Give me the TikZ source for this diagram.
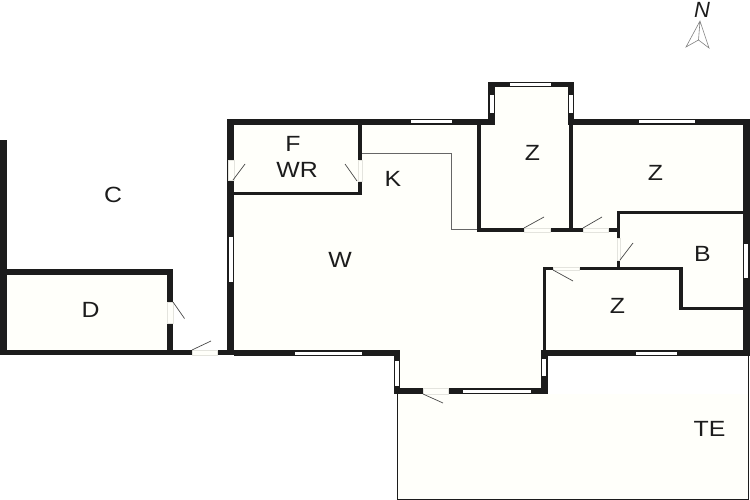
\documentclass[tikz,border=0pt]{standalone}
\usepackage{fontspec}
\setmainfont{Liberation Sans}
\definecolor{floorc}{RGB}{255,255,250}
\definecolor{wallc}{RGB}{28,28,28}
\definecolor{gapc}{RGB}{228,228,222}
\tikzset{
    wall/.style={fill=wallc},
    pane/.style={fill=white},
    doorgap/.style={fill=floorc,draw=gapc,line width=0.4pt},
    leaf/.style={draw=wallc!80!white,line width=0.7pt},
    room/.style={inner sep=0pt,xscale=1.13,yshift=-0.8pt,text=wallc,font=\fontsize{22}{22}\selectfont}
}
\begin{document}
\begin{tikzpicture}[x=1pt,y=-1pt]
\useasboundingbox (0,0) rectangle (750,500);
\def\housefloor{(230,122) -- (491,122) -- (491,85) -- (571,85) -- (571,122) -- (747,122) -- (747,353) -- (545,353) -- (545,391) -- (397,391) -- (397,353) -- (230,353) -- cycle}
\def\terrace{(397,394) rectangle (748,499)}
    % floors
    \fill[floorc] \housefloor;
    \fill[floorc] (3,272) rectangle (170,353);
    \fill[floorc] \terrace;
    \draw[wallc,line width=0.9pt] (397,394) -- (397,499) -- (748,499) -- (748,354);
    % kitchen counter
    \draw[black!60,line width=0.7pt] (362,153) -- (451,153) -- (451,229.5) -- (478,229.5);
    % walls
    \foreach \xa/\ya/\xb/\yb in {0/140/7/355, 7/269/173/275, 167/269/173/302, 167/323/173/355, 0/350/192/355,
        217/350/234/355, 227/119/234/355, 227/119/495/125, 358/125/362/160, 358/181/362/195, 234/192/362/195,
        477/119/481/232, 488/82/495/125, 488/82/574/87, 568/82/574/125, 568/119/750/125, 569/125/573/232,
        477/228/524/232, 550/228/583/232, 608/228/620/232, 617/211/750/214, 617/214/620/238, 617/260/620/268,
        743/119/750/356, 543/267/553/270, 579/267/683/270, 679/267/683/310, 679/307/750/310, 543/267/546/352,
        234/350/400/356, 394/350/400/394, 394/388/423/394, 448/388/548/394, 541/350/548/394, 541/350/750/356}
        \fill[wall] (\xa,\ya) rectangle (\xb,\yb);
    % door openings
    \foreach \xa/\ya/\xb/\yb in {167/302/173/323, 192/350/217/355, 228/160/234/180, 358/160/362/181, 524/228/550/232,
        583/228/608/232, 617/238/620/260, 553/267/579/270, 423/388/448/394}
        \filldraw[doorgap] (\xa,\ya) rectangle (\xb,\yb);
    % door leaves
    \foreach \xa/\ya/\xb/\yb in {173/302/184.5/318.5, 192/350/211/341, 233/180/245/164, 357/181/345/164, 524/228/544/217,
        583/228/602/217, 620/260/633/243, 553/270/573/281, 423/394/443/403}
        \draw[leaf] (\xa,\ya) -- (\xb,\yb);
    % windows
    \foreach \xa/\ya/\xb/\yb in {229/237/233/282, 411/120.5/452/123.5, 510/83/551/86, 490/95/494/113, 569/95/573/113,
        639/120.5/695/123.5, 744/244/748/278, 636/352/677/355, 295/352/362/355, 395/361/399/386, 463/390/531/393, 542/359/546/376}
        \fill[pane] (\xa,\ya) rectangle (\xb,\yb);
    % labels
    \node[room] (labelC) at (113,194) {C};
    \node[room] (labelD) at (90.5,309) {D};
    \node[room] (labelF) at (293,143) {F};
    \node[room] (labelWR) at (297,169) {WR};
    \node[room] (labelK) at (393,178) {K};
    \node[room] (labelW) at (340,259) {W};
    \node[room] (labelZa) at (532.5,152) {Z};
    \node[room] (labelZb) at (655.5,172) {Z};
    \node[room] (labelB) at (702.5,253) {B};
    \node[room] (labelZc) at (617.5,305) {Z};
    \node[room] (labelTE) at (709.5,428) {TE};
    % north arrow
    \node[inner sep=0pt,text=wallc,font=\fontsize{22}{22}\selectfont\itshape] (labelN) at (702,10) {N};
    \draw[black!50,line width=0.6pt] (700,21) -- (686,47) -- (698.5,40) -- (709,48) -- cycle (700,21) -- (698.5,40);
\end{tikzpicture}
\end{document}
